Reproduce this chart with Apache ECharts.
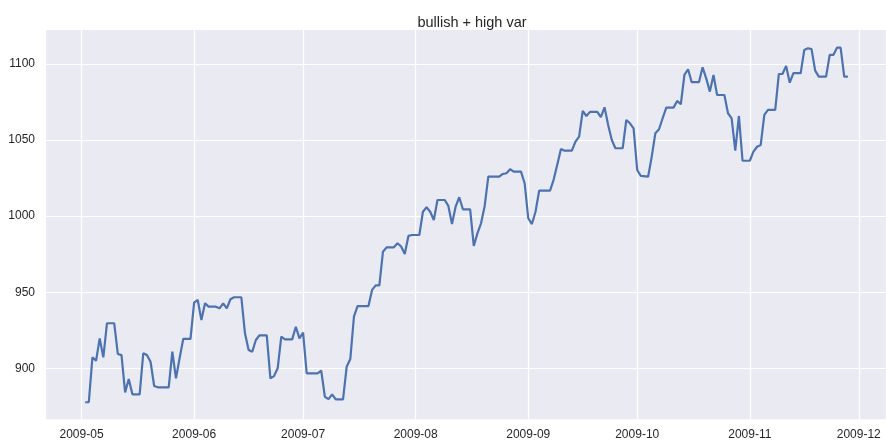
<!DOCTYPE html>
<html>
<head>
<meta charset="utf-8">
<script src="https://cdn.jsdelivr.net/npm/echarts@6/dist/echarts.min.js"></script>
<style>
  html, body { margin: 0; padding: 0; background: #fff; }
  #chart { width: 886px; height: 441px; }
</style>
</head>
<body>
<div id="chart"></div>
<script>
// dates (weekends forward-filled, only turning points kept)
const dates = [
  '2009-05-02', '2009-05-03', '2009-05-04', '2009-05-05', '2009-05-06', '2009-05-07', '2009-05-08', '2009-05-10',
  '2009-05-11', '2009-05-12', '2009-05-13', '2009-05-14', '2009-05-15', '2009-05-17', '2009-05-18', '2009-05-19',
  '2009-05-20', '2009-05-21', '2009-05-22', '2009-05-25', '2009-05-26', '2009-05-27', '2009-05-28', '2009-05-29',
  '2009-05-31', '2009-06-01', '2009-06-02', '2009-06-03', '2009-06-04', '2009-06-05', '2009-06-07', '2009-06-08',
  '2009-06-09', '2009-06-10', '2009-06-11', '2009-06-12', '2009-06-14', '2009-06-15', '2009-06-16', '2009-06-17',
  '2009-06-18', '2009-06-19', '2009-06-21', '2009-06-22', '2009-06-23', '2009-06-24', '2009-06-25', '2009-06-26',
  '2009-06-28', '2009-06-29', '2009-06-30', '2009-07-01', '2009-07-02', '2009-07-05', '2009-07-06', '2009-07-07',
  '2009-07-08', '2009-07-09', '2009-07-10', '2009-07-12', '2009-07-13', '2009-07-14', '2009-07-15', '2009-07-16',
  '2009-07-19', '2009-07-20', '2009-07-21', '2009-07-22', '2009-07-23', '2009-07-24', '2009-07-26', '2009-07-27',
  '2009-07-28', '2009-07-29', '2009-07-30', '2009-07-31', '2009-08-02', '2009-08-03', '2009-08-04', '2009-08-05',
  '2009-08-06', '2009-08-07', '2009-08-09', '2009-08-10', '2009-08-11', '2009-08-12', '2009-08-13', '2009-08-14',
  '2009-08-16', '2009-08-17', '2009-08-18', '2009-08-19', '2009-08-20', '2009-08-21', '2009-08-24', '2009-08-25',
  '2009-08-26', '2009-08-27', '2009-08-28', '2009-08-30', '2009-08-31', '2009-09-01', '2009-09-02', '2009-09-03',
  '2009-09-04', '2009-09-07', '2009-09-08', '2009-09-09', '2009-09-10', '2009-09-11', '2009-09-13', '2009-09-14',
  '2009-09-15', '2009-09-16', '2009-09-17', '2009-09-18', '2009-09-20', '2009-09-21', '2009-09-22', '2009-09-23',
  '2009-09-24', '2009-09-25', '2009-09-27', '2009-09-28', '2009-09-29', '2009-09-30', '2009-10-01', '2009-10-02',
  '2009-10-04', '2009-10-05', '2009-10-06', '2009-10-07', '2009-10-08', '2009-10-09', '2009-10-11', '2009-10-12',
  '2009-10-13', '2009-10-14', '2009-10-15', '2009-10-16', '2009-10-18', '2009-10-19', '2009-10-20', '2009-10-21',
  '2009-10-22', '2009-10-23', '2009-10-25', '2009-10-26', '2009-10-27', '2009-10-28', '2009-10-29', '2009-10-30',
  '2009-11-01', '2009-11-02', '2009-11-03', '2009-11-04', '2009-11-05', '2009-11-06', '2009-11-08', '2009-11-09',
  '2009-11-10', '2009-11-11', '2009-11-12', '2009-11-13', '2009-11-15', '2009-11-16', '2009-11-17', '2009-11-18',
  '2009-11-19', '2009-11-20', '2009-11-22', '2009-11-23', '2009-11-24', '2009-11-25', '2009-11-26', '2009-11-27',
  '2009-11-28'
]

const values = [
  877.7, 877.7, 907.2, 905.0, 919.7, 907.2, 929.6, 929.6,
  909.4, 908.7, 884.2, 893.0, 882.9, 882.9, 909.9, 908.7,
  904.3, 888.4, 887.5, 887.5, 910.9, 893.4, 906.6, 919.3,
  919.3, 943.1, 944.9, 931.7, 942.7, 940.5, 940.5, 939.4,
  942.7, 939.4, 945.4, 946.7, 946.7, 923.0, 912.0, 910.9,
  918.6, 921.7, 921.7, 893.4, 894.9, 900.0, 920.8, 919.0,
  919.0, 927.3, 919.7, 923.4, 896.7, 896.7, 898.4, 881.3,
  879.8, 882.9, 879.6, 879.6, 901.0, 906.1, 933.9, 940.9,
  940.9, 951.5, 954.5, 954.5, 976.6, 979.5, 979.5, 982.2,
  980.0, 975.1, 987.0, 987.6, 987.6, 1002.9, 1005.8, 1002.9,
  997.5, 1010.6, 1010.6, 1006.7, 994.8, 1006.2, 1012.4, 1004.5,
  1004.5, 980.4, 988.7, 995.3, 1006.7, 1025.9, 1025.9, 1027.7,
  1028.2, 1030.8, 1029.2, 1029.2, 1021.6, 998.6, 994.8, 1002.9,
  1016.7, 1016.7, 1024.0, 1034.0, 1044.1, 1043.0, 1043.0, 1048.9,
  1052.2, 1069.1, 1065.8, 1068.5, 1068.5, 1065.0, 1071.5, 1059.9,
  1050.0, 1044.6, 1044.6, 1063.2, 1061.0, 1057.7, 1030.3, 1026.4,
  1025.9, 1039.1, 1054.5, 1057.1, 1064.3, 1071.3, 1071.3, 1075.7,
  1073.5, 1092.8, 1096.5, 1088.0, 1088.0, 1097.8, 1090.5, 1081.8,
  1092.8, 1079.6, 1079.6, 1067.6, 1064.3, 1043.0, 1065.8, 1036.4,
  1036.4, 1042.4, 1045.6, 1046.8, 1066.5, 1069.8, 1069.8, 1093.4,
  1093.4, 1098.7, 1087.7, 1093.9, 1093.9, 1109.2, 1110.3, 1109.7,
  1095.6, 1091.7, 1091.7, 1105.9, 1105.9, 1110.7, 1110.7, 1091.7,
  1091.7
]

const yTicks = [900, 950, 1000, 1050, 1100]
const titleText = 'bullish + high var'

const DAY = 24 * 3600 * 1000
const may1 = Date.UTC(2009, 4, 1)
const xMin = may1 - 10.06 * DAY
const xMax = may1 + 221.5 * DAY

const seriesData = dates.map((d, i) => [d, values[i]])

const chart = echarts.init(document.getElementById('chart'), null, { renderer: 'canvas' })

chart.setOption({
  useUTC: true,
  animation: false,
  backgroundColor: '#ffffff',
  textStyle: { fontFamily: 'Liberation Sans, Arial, sans-serif' },
  title: {
    text: titleText,
    left: 467,
    top: 10,
    textAlign: 'center',
    textStyle: { fontSize: 14.5, fontWeight: 'normal', color: '#262626' },
  },
  grid: {
    left: 45,
    top: 30,
    width: 845,
    height: 389.3,
    show: true,
    backgroundColor: '#EAEAF2',
    borderWidth: 0,
  },
  xAxis: {
    type: 'time',
    min: xMin,
    max: xMax,
    splitNumber: 8,
    axisLine: { show: false },
    axisTick: { show: false },
    axisLabel: {
      formatter: '{yyyy}-{MM}',
      color: '#262626',
      fontSize: 12,
      margin: 9,
      showMinLabel: false,
      showMaxLabel: false,
      hideOverlap: false,
    },
    splitLine: { show: true, lineStyle: { color: '#ffffff', width: 1.2 } },
  },
  yAxis: {
    type: 'value',
    min: 866.5,
    max: 1122.3,
    axisLine: { show: false },
    axisTick: { show: false, customValues: yTicks },
    axisLabel: {
      customValues: yTicks,
      formatter: (v) => String(v),
      color: '#262626',
      fontSize: 12,
      margin: 10,
    },
    splitLine: { show: true, lineStyle: { color: '#ffffff', width: 1.2 } },
  },
  series: [
    {
      type: 'line',
      data: seriesData,
      showSymbol: false,
      symbol: 'none',
      lineStyle: { color: '#4C72B0', width: 2.2 },
    },
  ],
})
</script>
</body>
</html>
